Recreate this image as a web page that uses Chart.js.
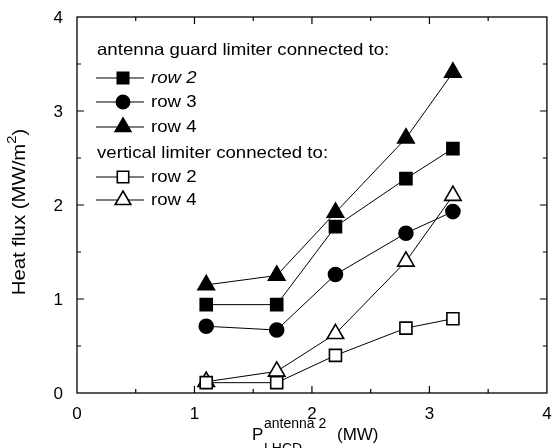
<!DOCTYPE html>
<html>
<head>
<meta charset="utf-8">
<script src="https://cdn.jsdelivr.net/npm/chart.js@4"></script>
<style>
html,body{margin:0;padding:0;background:#fff;}
#c{display:block;}
</style>
</head>
<body>
<canvas id="c" width="558" height="448"></canvas>
<script>
const xValues = [1.1, 1.7, 2.2, 2.8, 3.2];
const guardRow2 = [0.94, 0.94, 1.77, 2.28, 2.60];
const guardRow3 = [0.71, 0.67, 1.26, 1.70, 1.93];
const guardRow4 = [1.15, 1.25, 1.92, 2.71, 3.41];
const vertRow2 = [0.11, 0.11, 0.40, 0.69, 0.79];
const vertRow4 = [0.12, 0.23, 0.63, 1.40, 2.10];

const xTickValues = [0, 1, 2, 3, 4];
const xTickLabels = ['0', '1', '2', '3', '4'];
const yTickValues = [0, 1, 2, 3, 4];
const yTickLabels = ['0', '1', '2', '3', '4'];
const minorTickValues = [0.5, 1.5, 2.5, 3.5];

const heading1 = 'antenna guard limiter connected to:';
const heading2 = 'vertical limiter connected to:';
const seriesNames = ['row 2', 'row 3', 'row 4', 'row 2', 'row 4'];

const FONT = '"Liberation Sans", Arial, Helvetica, sans-serif';
const STRETCH = 1.13;

function pts(ys){ return xValues.map((x,i)=>({x:x, y:ys[i]})); }

const styles = [
  {pointStyle:'rect', radius:8.5, fill:'#000'},
  {pointStyle:'circle', radius:7, fill:'#000'},
  {pointStyle:'triangle', radius:9.5, fill:'#000'},
  {pointStyle:'rect', radius:8.5, fill:'#fff'},
  {pointStyle:'triangle', radius:9.5, fill:'#fff'}
];
const seriesData = [guardRow2, guardRow3, guardRow4, vertRow2, vertRow4];

const datasets = seriesData.map((d,i)=>({
  label: seriesNames[i],
  data: pts(d),
  showLine: true,
  borderColor: '#000',
  borderWidth: 1,
  pointStyle: styles[i].pointStyle,
  pointRadius: styles[i].radius,
  pointHoverRadius: styles[i].radius,
  pointBackgroundColor: styles[i].fill,
  pointBorderColor: '#000',
  pointBorderWidth: 1.6,
  fill: false,
  tension: 0
}));

function stretchedText(ctx, text, x, y, s){
  ctx.save();
  ctx.translate(x, y);
  ctx.scale(s, 1);
  ctx.fillText(text, 0, 0);
  ctx.restore();
}

const framePlugin = {
  id: 'frame',
  afterDraw(chart){
    const ctx = chart.ctx;
    const a = chart.chartArea;
    const xs = chart.scales.x, ys = chart.scales.y;
    ctx.save();
    ctx.strokeStyle = '#000';
    ctx.lineWidth = 1.3;
    ctx.strokeRect(a.left, a.top, a.right - a.left, a.bottom - a.top);
    // ticks inward
    ctx.lineWidth = 1.2;
    ctx.beginPath();
    const tick = (vals, len) => {
      vals.forEach(v=>{
        const px = xs.getPixelForValue(v);
        ctx.moveTo(px, a.bottom); ctx.lineTo(px, a.bottom - len);
        ctx.moveTo(px, a.top); ctx.lineTo(px, a.top + len);
        const py = ys.getPixelForValue(v);
        ctx.moveTo(a.left, py); ctx.lineTo(a.left + len, py);
        ctx.moveTo(a.right, py); ctx.lineTo(a.right - len, py);
      });
    };
    tick(xTickValues.slice(1,4), 7);
    tick(minorTickValues, 4);
    ctx.stroke();

    // tick labels
    ctx.fillStyle = '#000';
    ctx.font = '17px ' + FONT;
    ctx.textAlign = 'center';
    ctx.textBaseline = 'alphabetic';
    xTickValues.forEach((v,i)=>{
      ctx.fillText(xTickLabels[i], xs.getPixelForValue(v), 419);
    });
    ctx.textAlign = 'right';
    ctx.textBaseline = 'middle';
    yTickValues.forEach((v,i)=>{
      ctx.fillText(yTickLabels[i], 63, ys.getPixelForValue(v) + 1);
    });

    // y title
    ctx.save();
    ctx.translate(20, 212);
    ctx.rotate(-Math.PI/2);
    ctx.scale(1.13, 1);
    ctx.textBaseline = 'middle';
    ctx.textAlign = 'left';
    const t1 = 'Heat flux (MW/m', t2 = '2', t3 = ')';
    ctx.font = '18px ' + FONT;
    const w1 = ctx.measureText(t1).width;
    ctx.font = '13px ' + FONT;
    const w2 = ctx.measureText(t2).width;
    ctx.font = '18px ' + FONT;
    const w3 = ctx.measureText(t3).width;
    let sx = -(w1 + w2 + w3)/2;
    ctx.fillText(t1, sx, 0);
    ctx.font = '13px ' + FONT;
    ctx.fillText(t2, sx + w1, -8);
    ctx.font = '18px ' + FONT;
    ctx.fillText(t3, sx + w1 + w2, 0);
    ctx.restore();

    // x title
    ctx.textAlign = 'left';
    ctx.textBaseline = 'alphabetic';
    ctx.font = '17px ' + FONT;
    ctx.fillText('P', 252, 440);
    ctx.font = '14px ' + FONT;
    ctx.fillText('antenna 2', 264, 428);
    ctx.fillText('LHCD', 264, 453);
    ctx.font = '17px ' + FONT;
    ctx.fillText('(MW)', 337, 440);

    // legend
    const H = Chart.helpers;
    ctx.font = '16.5px ' + FONT;
    ctx.textBaseline = 'middle';
    stretchedText(ctx, heading1, 97, 50, STRETCH);
    stretchedText(ctx, heading2, 97, 153, STRETCH);
    const rowsY = [78, 102, 127, 177, 200];
    rowsY.forEach((y,i)=>{
      ctx.strokeStyle = '#000';
      ctx.lineWidth = 1.2;
      ctx.beginPath();
      ctx.moveTo(96, y); ctx.lineTo(144, y);
      ctx.stroke();
      ctx.fillStyle = styles[i].fill;
      ctx.strokeStyle = '#000';
      ctx.lineWidth = 1.6;
      H.drawPoint(ctx, {pointStyle: styles[i].pointStyle, radius: styles[i].radius*0.95, borderWidth:1.6}, 123, y);
      ctx.fillStyle = '#000';
      ctx.font = (i === 0 ? 'italic ' : '') + '16.5px ' + FONT;
      stretchedText(ctx, seriesNames[i], 151, y, STRETCH);
    });
    ctx.restore();
  }
};

new Chart(document.getElementById('c'), {
  type: 'scatter',
  data: {datasets},
  options: {
    responsive: false,
    animation: false,
    events: [],
    layout: {padding: {top: 17, right: 2, left: 0, bottom: 0}},
    plugins: {legend: {display: false}, tooltip: {enabled: false}},
    scales: {
      x: {
        type: 'linear', min: 0, max: 4,
        grid: {display: false}, border: {display: false},
        ticks: {display: false},
        afterFit(s){ s.height = 55; }
      },
      y: {
        type: 'linear', min: 0, max: 4,
        grid: {display: false}, border: {display: false},
        ticks: {display: false},
        afterFit(s){ s.width = 77; }
      }
    }
  },
  plugins: [framePlugin]
});
</script>
</body>
</html>
